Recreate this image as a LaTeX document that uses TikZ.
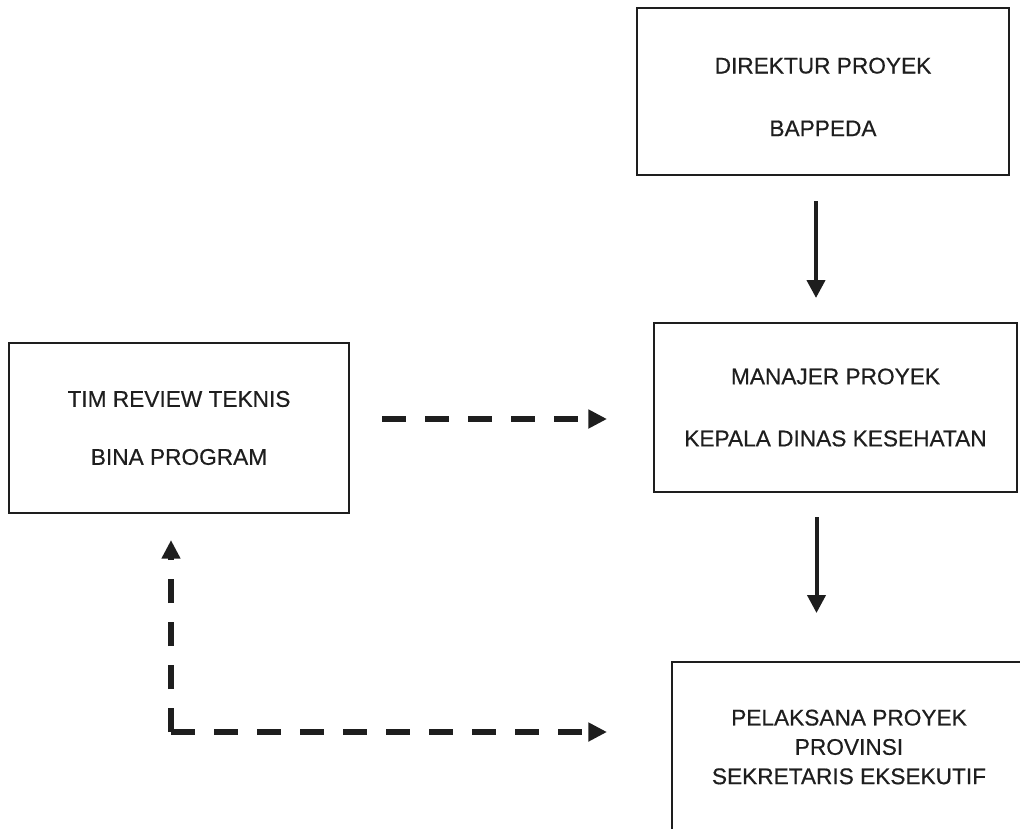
\documentclass[tikz,border=0pt]{standalone}
\usepackage{fontspec}
\setmainfont{Liberation Sans}
\newfontfamily\boxfont[FakeBold=0.45]{Liberation Sans}
\usetikzlibrary{arrows.meta,calc}

\definecolor{ink}{HTML}{1E1E1E}

\tikzset{
  orgbox/.style={draw=ink, line width=1.6pt, fill=white, inner sep=0pt,
    align=center, text=ink, font=\boxfont\fontsize{17}{22}\selectfont},
  solidarrow/.style={draw=ink, line width=3pt,
    -{Triangle[length=13.5pt,width=13.5pt]}},
  dasharrow/.style={draw=ink, line width=4.5pt, dash pattern=on 18pt off 14.25pt,
    -{Triangle[length=14pt,width=13.5pt]}}
}

\begin{document}
\begin{tikzpicture}[x=0.75pt,y=-0.75pt]
  \useasboundingbox (0,0) rectangle (1020,828);
  \fill[white] (0,0) rectangle (1020,828);
  \clip (0,0) rectangle (1020,828);

  % boxes
  \node[orgbox, minimum width=279pt, minimum height=125.25pt] (dir) at (823,91.5)
    {\rule{0pt}{20pt}DIREKTUR PROYEK\\[25pt]BAPPEDA};
  \node[orgbox, minimum width=272.25pt, minimum height=126.75pt] (man) at (835.5,407.5)
    {MANAJER PROYEK\\[24.5pt]KEPALA DINAS KESEHATAN};
  \node[orgbox, minimum width=265.5pt, minimum height=127.5pt] (pel) at (849,747)
    {PELAKSANA PROYEK\\PROVINSI\\SEKRETARIS EKSEKUTIF};
  \node[orgbox, minimum width=255pt, minimum height=127.5pt] (tim) at (179,428)
    {TIM REVIEW TEKNIS\\[21.5pt]BINA PROGRAM};

  % solid chain of command
  \coordinate (s1a) at ($(dir.south)+(-7,25)$);
  \coordinate (s1b) at (s1a |- 0,298);
  \draw[solidarrow] (s1a) -- (s1b);
  \coordinate (s2a) at ($(man.south)+(-19,24)$);
  \coordinate (s2b) at (s2a |- 0,613);
  \draw[solidarrow] (s2a) -- (s2b);

  % dashed coordination lines
  \coordinate (d1a) at (382,419);
  \coordinate (d1b) at (607,419);
  \draw[dasharrow] (d1a) -- (d1b);

  \coordinate (corner) at (171,732);
  \coordinate (upTip) at ($(tim.south)+(-8,26)$);
  \coordinate (rtTip) at (607,732);
  \draw[dasharrow] (corner) -- (corner |- upTip);
  \draw[dasharrow] (corner) -- (rtTip);
\end{tikzpicture}
\end{document}
